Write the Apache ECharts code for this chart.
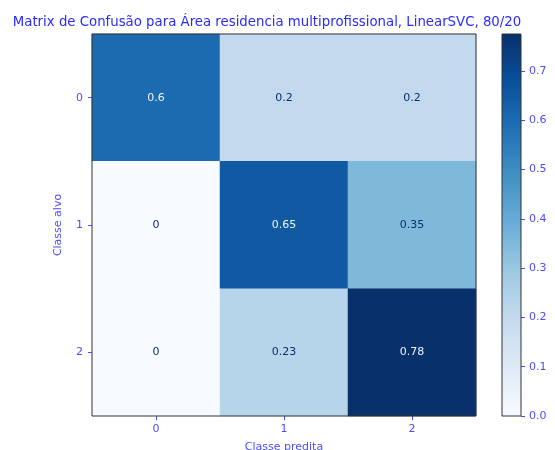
<!DOCTYPE html>
<html><head><meta charset="utf-8">
<script src="https://cdn.jsdelivr.net/npm/echarts@6/dist/echarts.min.js"></script>
<style>html,body{margin:0;padding:0;background:#fff}#c{width:555px;height:450px}</style>
</head><body><div id="c"></div>
<script>
const categories = ['0', '1', '2'];
const matrix = [
  [0.6, 0.2, 0.2],
  [0, 0.65, 0.35],
  [0, 0.23, 0.78]
];
const cellLabels = [
  ['0.6', '0.2', '0.2'],
  ['0', '0.65', '0.35'],
  ['0', '0.23', '0.78']
];
const colorbarMax = [0.775];
const titleText = 'Matrix de Confusão para Área residencia multiprofissional, LinearSVC, 80/20';
const xName = 'Classe predita';
const yName = 'Classe alvo';

const blues = ['#f7fbff','#deebf7','#c6dbef','#9ecae1','#6baed6','#4292c6','#2171b5','#08519c','#08306b'];
const vmin = 0, vmax = 0.775;
const thresh = (Math.max(...matrix.flat()) + Math.min(...matrix.flat())) / 2;
const lab = '#4d4dff';
const font = 'DejaVu Sans';
const fs = 11;

const heatData = [];
for (let r = 0; r < 3; r++) for (let c = 0; c < 3; c++) {
  heatData.push({
    value: [c, r, matrix[r][c]],
    label: { color: matrix[r][c] > thresh ? '#eef4fa' : '#08306b', formatter: cellLabels[r][c] }
  });
}

const chart = echarts.init(document.getElementById('c'), null, { renderer: 'canvas' });
chart.setOption({
  animation: false,
  textStyle: { fontFamily: font },
  title: { text: titleText, left: 262, top: 11, textAlign: 'center',
    textStyle: { color: '#2a2aff', fontSize: 13.3, fontWeight: 'normal', fontFamily: font } },
  grid: [
    { left: 92, top: 34, width: 384, height: 382, show: true, borderColor: '#333', borderWidth: 1, z: 5,
      containLabel: false, outerBoundsMode: 'none' },
    { left: 502, top: 34, width: 19, height: 382, show: true, borderColor: '#333', borderWidth: 1, z: 5,
      containLabel: false, outerBoundsMode: 'none' }
  ],
  xAxis: [
    { type: 'category', gridIndex: 0, data: categories,
      name: xName, nameLocation: 'middle', nameGap: 26,
      nameTextStyle: { color: lab, fontSize: fs, fontFamily: font },
      axisLine: { show: false }, axisTick: { show: true, alignWithLabel: true, length: 4, lineStyle: { color: lab } },
      axisLabel: { color: lab, fontSize: fs, margin: 8, fontFamily: font }, splitLine: { show: false } },
    { type: 'category', gridIndex: 1, data: ['cb'], show: false }
  ],
  yAxis: [
    { type: 'category', gridIndex: 0, data: categories, inverse: true,
      name: yName, nameLocation: 'middle', nameGap: 28, nameRotate: 90,
      nameTextStyle: { color: lab, fontSize: fs, fontFamily: font },
      axisLine: { show: false }, axisTick: { show: true, alignWithLabel: true, length: 4, lineStyle: { color: lab } },
      axisLabel: { color: lab, fontSize: fs, margin: 9, fontFamily: font }, splitLine: { show: false } },
    { type: 'value', gridIndex: 1, position: 'right', min: 0, max: vmax, interval: 0.1,
      axisLine: { show: false }, axisTick: { show: true, length: 4, lineStyle: { color: lab } },
      axisLabel: { color: lab, fontSize: fs, margin: 8, fontFamily: font, showMaxLabel: false,
        formatter: v => v.toFixed(1) }, splitLine: { show: false } }
  ],
  visualMap: { show: false, min: vmin, max: vmax, dimension: 2, seriesIndex: 0, inRange: { color: blues } },
  series: [
    { type: 'heatmap', xAxisIndex: 0, yAxisIndex: 0, data: heatData,
      label: { show: true, fontSize: fs, fontFamily: font } },
    { type: 'bar', xAxisIndex: 1, yAxisIndex: 1, barWidth: '100%', data: colorbarMax,
      itemStyle: { color: new echarts.graphic.LinearGradient(0, 1, 0, 0,
        blues.map((c, i) => ({ offset: i / (blues.length - 1), color: c }))) } }
  ]
});
</script></body></html>
